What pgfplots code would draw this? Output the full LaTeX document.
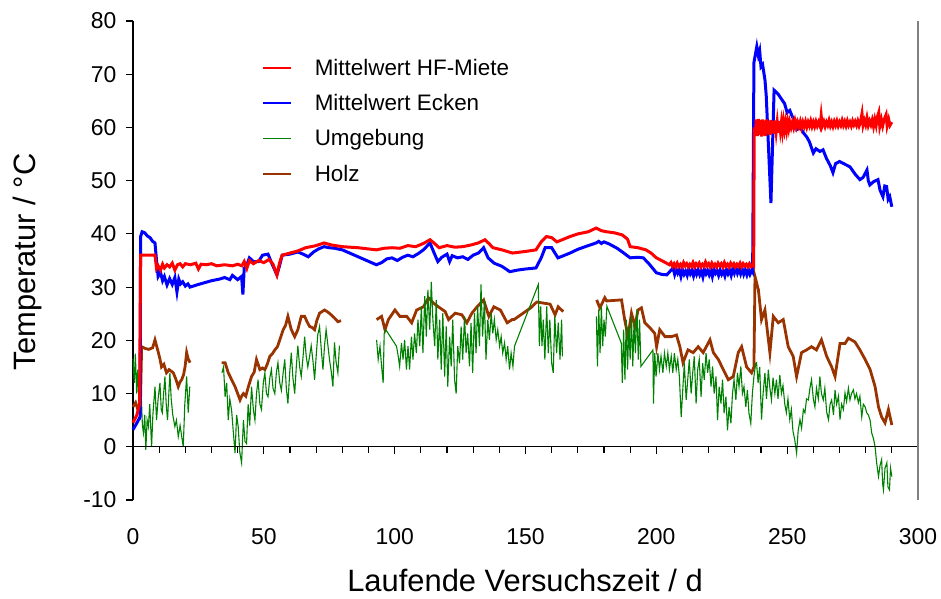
\documentclass[border=0pt]{standalone}
\usepackage{pgfplots}
\pgfplotsset{compat=1.18}
\usepackage{fontspec}
\setmainfont{Liberation Sans}
\definecolor{cred}{RGB}{255,0,0}
\definecolor{cblue}{RGB}{0,0,255}
\definecolor{cgreen}{RGB}{0,128,0}
\definecolor{cbrown}{RGB}{153,51,0}
\begin{document}
\begin{tikzpicture}
\begin{axis}[name=main, scale only axis, width=785bp, height=479bp,
  xmin=0, xmax=300, ymin=-10, ymax=80, clip=false,
  axis x line*=bottom, axis y line*=left,
  x axis line style={draw=none},
  y axis line style={-, black, line width=1.2bp},
  xtick={0,50,...,300}, ytick={-10,0,...,80},
  major x tick style={draw=none},
  tick align=outside, major tick length=7bp,
  y tick style={black, line width=1.2bp},
  /pgf/number format/assume math mode=true,
  tick label style={font=\fontsize{23}{27}\selectfont},
  xticklabel style={anchor=base, yshift=-37bp},
  yticklabel style={anchor=east, xshift=-6bp},
  xlabel={Laufende Versuchszeit / d},
  ylabel={Temperatur / °C},
  label style={font=\fontsize{31}{35}\selectfont},
  xlabel style={at={(axis description cs:0.4994,-0.167)}, anchor=center},
  ylabel style={at={(axis description cs:-0.1338,0.497)}, anchor=center, rotate=0},
  unbounded coords=jump,
  legend cell align=left,
  legend image code/.code={\draw[#1] (0bp,0bp) -- (28bp,0bp);},
  legend style={draw=none, fill=none, font=\fontsize{22.5}{26}\selectfont,
    at={(rel axis cs:0.160,0.929)}, anchor=north west, row sep=13.5bp,
    column sep=21bp},
]
\addlegendimage{cred, line width=2bp}\addlegendentry{Mittelwert HF-Miete}
\addlegendimage{cblue, line width=2bp}\addlegendentry{Mittelwert Ecken}
\addlegendimage{cgreen, line width=1bp}\addlegendentry{Umgebung}
\addlegendimage{cbrown, line width=2bp}\addlegendentry{Holz}

% Holz
\addplot[cbrown, line width=2.8bp, forget plot] coordinates {
(0,7.5) (1,8.3) (2,6.8) (2.8,7) (3.3,18.8) (4.5,18.5) (6,18.3) (7.5,18.6) (8.4,20.1) (9.7,17.7) (10.3,16.5) (10.9,15) (11.8,15.5) (12.8,13.9) (13.8,14.5) (15.4,13.9) (16.3,12.8) (17.3,11.3) (18.0,12.2) (18.6,12.6) (19.3,13.5) (19.9,15) (20.5,17.7) (21.1,16.5) (21.8,15.8) (22,nan)
(33.9,15.8) (35.2,15.8) (36.4,13.9) (37.7,12.6) (39,11.3) (40,10) (40.9,8.8) (41.5,9.5) (42.2,10) (43.1,9.5) (44.1,11.3) (45.3,13.2) (46.3,14) (47.2,16.4) (48.5,14.5) (49.5,14.8) (50.4,14.5) (51.3,15.5) (52.3,17) (53.3,17.5) (54.2,18.2) (55.2,18.8) (56.1,20.1) (57.4,22) (58.3,22.8) (59.2,24.5) (60.5,22) (61.8,20.7) (63,22) (64.3,24.5) (65.6,24.5) (66.5,23.5) (67.5,22.6) (68.5,22.4) (69.4,22) (70.3,23.8) (71.3,25.1) (73.2,25.7) (74.5,25.3) (75.7,24.8) (77,24.2) (78.3,23.5) (79.5,23.7) (80,nan)
(93.1,23.9) (95,24.5) (96.3,22) (97.6,23.9) (100.1,25.7) (102,24.5) (104.6,24.5) (106.5,23.3) (108.4,25.7) (111,26.3) (112.9,28) (114.8,27) (116.7,26.3) (119.3,25.4) (120.6,23.9) (123.1,25.1) (125.7,24.8) (127.6,23.3) (129.5,25.1) (131.5,26.3) (134,27.6) (136,24.5) (137.9,26.3) (140.4,25.7) (143,23.3) (144.9,23.9) (145.6,23.9) (152,26.1) (154.3,27.2) (156.8,27) (159.4,26.8) (161.3,24.8) (162.5,26.3) (164.4,25.4) (165,nan)
(177.2,27.6) (178.4,26.1) (180.3,28) (181,27.4) (186.7,27.6) (187.9,23.9) (189.2,20.7) (190.5,25.1) (191.8,22.6) (193,25.7) (194.3,26.1) (195.6,23.3) (197.5,22.4) (199.4,21.3) (200.1,18.8) (201.3,22) (203.3,20.7) (205.8,20.7) (207.7,21) (209,18.8) (210.2,15.8) (212.1,18.2) (214.1,17.7) (216,18.8) (217.9,17.7) (220.5,20.1) (221.8,17.7) (223.7,16.4) (225.6,14.5) (227.5,12.6) (229.4,13.2) (231.3,17.7) (232.6,18.8) (234.5,15) (236.4,13.9) (237.3,15) (237.7,32) (239,29.5) (240.2,23.9) (241.5,25.7) (243.4,17.7) (244.7,24.5) (246.6,23.3) (248.5,23.9) (250.4,18.8) (252.3,17) (253.6,13.2) (255.5,17.7) (257.4,18.2) (259.3,18.8) (261.2,18.2) (263.1,20.1) (265.1,17) (267,15) (268.3,13.2) (270.2,19.4) (272.1,19.4) (273.4,20.4) (275.9,19.7) (277.8,18.2) (279.8,16.4) (281.7,14.5) (283.6,11.3) (284.9,7.5) (286.1,5.6) (287.4,4.5) (288.7,7) (290,4.1)
};

% Umgebung
\addplot[cgreen, line width=1.1bp, forget plot] coordinates {
(0,16.5) (0.5,12) (0.9,17.5) (1.4,10) (1.8,14.5) (2.3,8) (2.7,5) (3.2,9) (3.6,4) (4.0,2.6) (4.5,6) (4.9,-0.6) (5.4,5) (5.9,3.8) (6.4,8) (7.1,0) (7.6,6) (8.4,11.3) (9.0,5) (9.6,9) (10.3,12) (10.8,7) (11.2,6.4) (11.7,10) (12.2,13.2) (12.7,8) (13.2,5) (13.7,10) (14.1,13.9) (14.6,9) (15.2,6) (16.0,3.8) (16.6,5) (17.3,1.9) (18.0,4) (18.6,2) (19.2,0) (19.8,8) (20.5,13.2) (21.1,6.4) (21.7,11.3) (22,nan)
(34.0,13.9) (34.6,15) (35.2,9.4) (35.8,12) (36.4,5) (37.0,9) (37.7,6.8) (38.3,3) (39.0,-1.2) (39.6,6) (40.2,3.8) (40.8,-1) (41.5,-3) (42.2,5) (42.8,1) (43.4,0.6) (44.0,8) (44.6,4) (45.3,11.3) (46.0,7) (46.6,5) (47.2,10) (47.8,12.6) (48.5,8) (49.1,7) (49.8,12) (50.4,13.9) (51.0,10) (51.6,9.4) (52.3,13) (52.9,14.5) (53.5,11) (54.2,10) (54.8,14) (55.4,15.8) (56.1,12) (56.7,10.6) (57.4,14) (58.0,16.4) (58.6,11) (59.2,8.1) (59.9,14) (60.5,17.7) (61.1,13) (61.8,10) (62.4,15) (63.0,19) (63.7,15) (64.3,13.2) (65.0,17) (65.6,20.7) (66.2,17) (66.8,15) (67.5,17) (68.1,19) (68.8,16) (69.4,12.6) (70.0,17) (70.6,21) (71.3,22.6) (72.0,18) (72.6,14.5) (73.2,19) (73.8,22) (74.5,19) (75.1,16.4) (75.8,14) (76.4,11.3) (77.0,19.6) (77.6,16) (78.3,13.9) (78.9,19) (79,nan)
(93.1,20.1) (93.7,16.4) (94.4,18.9) (95,15.1) (95.6,12) (96,21.3) (96.6,22) (100.7,18.9) (101.3,17.2) (101.9,15.1) (102.6,19.5) (103.2,16.4) (103.8,20.1) (104.5,14.5) (105.1,18.9) (105.7,14.5) (106.4,20.7) (107,16.4) (107.6,21.3) (108.3,17.6) (108.9,23.9) (109.6,18.9) (110.2,26.4) (110.8,17.6) (111.5,28.3) (112.1,20.7) (112.7,29.5) (113.4,22) (114,31) (114.6,23.9) (115.3,18.9) (115.9,27.6) (116.5,16.4) (117.2,23.9) (117.8,14.5) (118.4,25.1) (119.1,13.2) (119.7,22.6) (120.3,11.3) (121,20.7) (121.6,15.1) (122.2,23.9) (122.9,12.6) (123.5,10) (124.1,18.9) (124.8,15.7) (125.4,22.6) (126,16.4) (126.7,24.5) (127.3,17.6) (127.9,21.3) (128.6,15.1) (129.2,23.3) (129.8,13.9) (130.5,25.1) (131.1,17.6) (131.7,26.4) (132.4,18.9) (133,30.5) (133.6,20.7) (134.3,27.6) (134.9,16.4) (135.6,23.9) (136.2,20.1) (136.9,25.1) (137.5,21.3) (138.1,23.9) (138.8,20.1) (139.4,22) (140.1,18.9) (140.7,20.7) (141.3,17.6) (142,19.5) (142.6,16.4) (143.2,18.9) (143.9,14.5) (144.5,17.6) (145.2,15.1) (145.8,18.9) (154.9,30.5) (155.3,18.9) (155.8,26.4) (156.3,18.9) (156.8,23.9) (157.4,16.4) (158.1,26.4) (158.7,17.6) (159.3,23.9) (160,15.7) (160.6,13.9) (161.2,24.5) (161.9,17.6) (162.5,23.3) (163.2,16.4) (163.8,23.9) (164.1,17) (165,nan)
(177.1,24.5) (177.5,15.1) (178,25.8) (178.5,17.6) (179,26.4) (179.5,18.9) (180,23.9) (180.5,20.7) (181.1,26.4) (186.6,19.5) (187,12) (187.5,22) (188,12.6) (188.5,23.9) (189,14.5) (189.5,22.6) (190,16.4) (190.5,24.5) (191,15.1) (191.5,23.9) (192,17.6) (192.6,25.8) (193.1,16.4) (193.6,23.9) (194.1,15.1) (198.7,18.2) (198.9,8.1) (199.4,17.6) (199.9,13.2) (200.6,17.6) (201.2,14.5) (201.8,17) (202.5,13.9) (203.1,17.6) (203.8,15.1) (204.4,17.6) (205,14.5) (205.7,17) (206.3,13.9) (206.9,17.6) (207.6,14.5) (208.2,16.4) (208.8,13.2) (209.5,5.6) (210.1,10.7) (210.7,15.7) (211.4,8.8) (212,12.6) (212.6,16.4) (213.3,10) (213.9,13.9) (214.5,17) (215.2,8.1) (215.8,14.5) (216.4,16.4) (217.1,9.4) (217.7,15.7) (218.3,12.6) (219,17.6) (219.6,13.9) (220.2,16.4) (220.9,11.3) (221.5,15.1) (222.1,10) (222.8,13.2) (223.4,5) (224,11.3) (224.7,8.1) (225.3,12.6) (225.9,6.3) (226.6,9.4) (227.2,3.1) (227.8,7.5) (228.5,4.4) (229.1,10) (229.7,12.6) (230.4,8.8) (231,13.9) (231.6,11.3) (232.3,15.1) (232.9,10) (233.5,11.3) (234.2,7.5) (234.8,10.7) (235.4,6.3) (236.1,4.4) (236.7,10) (237.3,13.2) (238,15.7) (238.3,15.8) (238.9,12) (239.5,15) (240.2,5.1) (240.8,10) (241.5,13.9) (242.1,9) (242.8,14.5) (243.4,11) (244,8.8) (244.6,13) (245.3,10) (245.9,12.6) (246.5,9) (247.2,13.5) (247.8,10) (248.4,11.5) (249.1,8) (249.7,6.4) (250.3,9) (251,5.1) (251.6,7) (252.2,3) (252.9,1.3) (253.6,-1.2) (254.2,3) (254.9,5.1) (255.5,3.5) (256.2,7) (256.8,6.4) (257.4,9) (258.1,8.8) (258.7,11) (259.3,12.6) (260,9) (260.6,7.5) (261.2,11) (261.9,9) (262.5,13.2) (263.1,10) (263.8,8.8) (264.4,11) (265.1,6.5) (265.8,5.1) (266.4,8) (267,8.8) (267.7,6) (268.3,10.7) (268.9,8) (269.6,9.5) (270.2,5.1) (270.8,8) (271.5,7) (272.1,10.1) (272.7,8.5) (273.4,11) (274,8.8) (274.6,10) (275.3,10.7) (275.9,9) (276.5,10) (277.2,8.3) (277.8,9.5) (278.5,5.6) (279.1,8) (279.8,7.5) (280.4,6.4) (281,6) (281.7,5) (282.3,2.6) (283,1.5) (283.6,0) (284.2,-3) (284.9,-5.6) (285.5,-3.5) (286.1,-2.4) (286.5,-7) (286.8,-8.1) (287.4,-4) (288.1,-3) (288.5,-7.5) (289.1,-8.1) (289.5,-4) (290,-5.6)
};

% Mittelwert Ecken
\addplot[cblue, line width=3bp, forget plot] coordinates {
(0,3.2) (1.5,4.5) (2.7,5.6) (2.9,39.5) (3.5,40.4) (4.5,40.2) (5.5,39.6) (6.5,39.3) (7.5,38.6) (8.4,38.3) (9,35) (9.6,32) (10.5,32.8) (11.3,31.2) (12,32) (13,30.4) (14,31.6) (15,30.5) (16,31.8) (16.8,29.1) (17.5,31.5) (18.2,30.6) (19,31) (20,30.2) (21,30.6) (21.8,30) (25,30.5) (30,31.2) (33,31.5) (35,31.8) (37,31.4) (38,32.2) (40,31.4) (41.5,32) (42,28.6) (42.5,33.5) (43.5,34.2) (44.5,35.5) (46,34.8) (48,34.8) (49.5,36) (51.6,36.2) (53,34.5) (55,32.3) (56,34) (57,36) (60,36.2) (63,36.6) (65,36.2) (67,35.7) (69,36.6) (71,37.2) (73,37.6) (75,37.4) (77,37.3) (80,37) (93,34.2) (95,34.6) (97,35.3) (99,35.5) (101,35) (103,35.6) (105,36) (107,35.7) (109,36.3) (111,37) (113.5,38.3) (115,36.5) (116.5,34.8) (118,35.6) (120,36.2) (121,34.8) (122,35.9) (124,35.5) (126,35.7) (128,35.2) (130,36) (132,36.4) (134,37.4) (135.7,35.5) (138,34.5) (141,33.9) (144,32.9) (147,33.2) (150,33.4) (154,33.6) (156,35.5) (157.5,37.4) (160,37.4) (162.4,35.5) (164,35.8) (167,36.4) (170,37.1) (174,37.8) (177,38.3) (178,38.6) (179,38.2) (180,38.5) (182,38.1) (185,37.3) (187,36.6) (190,35.5) (193,35.6) (195,35.5) (197,34.5) (200,32.7) (202,32.4) (204,32.3) (206.4,33.6) (207,32.4) (207.6,33.4) (208.2,32.6) (208.8,33.2) (209.4,32) (210,33.3) (210.6,32.4) (211.2,33) (211.8,32.2) (212.4,33.4) (213,32.5) (213.6,33.1) (214.2,32.1) (214.8,33.3) (215.4,32.4) (216,33.2) (216.6,32.3) (217.2,33) (217.8,31.9) (218.4,33.3) (219,32.5) (219.6,33.1) (220.2,32.3) (220.8,33.2) (221.4,32) (222,33.4) (222.6,32.6) (223.2,33.1) (223.8,32.2) (224.4,33.2) (225,32.4) (225.6,33) (226.2,32.1) (226.8,33.3) (227.4,32.5) (228,33.2) (228.6,32.2) (229.2,33.4) (229.8,32.6) (230.4,33.6) (231,32.6) (231.6,33.4) (232.2,32.5) (232.8,33.5) (233.4,32.4) (234,33.2) (234.6,32.3) (235.2,33.3) (235.8,32.4) (236.4,33.1) (236.8,32.8) (237.3,72.2) (238.4,75.2) (239,73.5) (239.5,74.4) (240,71.4) (240.6,71.8) (241.5,69) (242,66) (243.8,45.8) (245,67) (246.5,66.3) (248,65.2) (249,64.5) (250,62.8) (251,63.2) (252,62) (253,61.5) (253.7,59.6) (255,60) (256.2,59) (257.5,58.2) (258.5,57.3) (260,55.2) (261,56) (262.5,55.5) (263.7,55.8) (265,54.2) (266.5,52.8) (267.5,51.5) (268.5,53.2) (270,53.6) (272,53.1) (274,52.6) (276,51.2) (277.8,50.2) (279,50.6) (280.5,52) (281,50) (281.6,49.2) (283,49.8) (284.7,50.2) (285.5,48.2) (286.6,47) (287.3,49) (288,48.9) (288.6,46.5) (289.2,47) (290,45.1)
};

% Mittelwert HF-Miete
\addplot[cred, line width=3bp, forget plot] coordinates {
(0,4.5) (1.5,6) (2.5,8) (2.9,36) (8.4,36) (9.0,33.5) (9.6,34) (10.5,33.2) (11.3,34.3) (12,33.6) (13,34.2) (14,33.8) (15,34.5) (16,33.2) (17,34.2) (18,34.4) (19,33.8) (20,34.4) (22,34.2) (24,34.5) (25,33.4) (26,34.3) (28,34.2) (30,34.4) (32,34) (35,34.2) (38,34) (40,34.3) (41.6,34) (42.5,34.8) (43.5,33.5) (44.5,35) (46,34.4) (48,35) (50,34.6) (52,35.2) (53.5,34.3) (55,32.3) (56,34.5) (57,36) (60,36.4) (63,36.8) (66,37.4) (70,37.8) (73,38.3) (76,37.9) (80,37.6) (86,37.4) (93,37) (96,37.3) (99,37.4) (102,37.3) (105,37.8) (108,37.6) (111,38.2) (113.5,38.9) (115,38.3) (117,37.4) (120,37.8) (123,37.5) (126,37.6) (129,37.9) (132,38.3) (134.5,38.9) (136,38.2) (137.6,37.4) (141,37) (145,36.4) (150,36.7) (154,37) (156,38.5) (158,39.5) (160,39.3) (162,38.5) (164,38.9) (167,39.5) (170,40) (174,40.4) (177,41.1) (179,40.6) (181,40.4) (184,40.2) (187,39.8) (189,39) (190,37.6) (193,37.4) (196,37) (198,36.4) (200,35.5) (202,35) (205,34.2) (205.6,34.6) (206.2,33.9) (206.8,34.4) (207.4,33.8) (208,34.5) (208.6,33.9) (209.2,34.3) (209.8,33.8) (210.4,34.6) (211,34) (211.6,34.4) (212.2,33.8) (212.8,34.3) (213.4,33.9) (214,34.6) (214.6,33.8) (215.2,34.4) (215.8,34) (216.4,34.5) (217,33.8) (217.6,34.3) (218.2,33.9) (218.8,34.7) (219.4,34) (220,34.4) (220.6,33.8) (221.2,34.5) (221.8,33.9) (222.4,34.3) (223,33.8) (223.6,34.5) (224.2,34) (224.8,34.4) (225.4,33.8) (226,34.6) (226.6,33.9) (227.2,34.3) (227.8,33.8) (228.4,34.5) (229,34) (229.6,34.4) (230.2,33.8) (230.8,34.3) (231.4,33.9) (232,34.5) (232.6,33.8) (233.2,34.4) (233.8,34) (234.4,34.3) (235,33.8) (235.6,34.4) (236.2,33.9) (236.8,34.2) (237.2,34) (237.4,60) (237.8,58.5) (238.2,61.5) (238.6,58.4) (239,61.6) (239.4,58.6) (239.8,61.4) (240.2,58.3) (240.6,61.5) (241,58.5) (241.4,61.3) (241.8,58.4) (242.2,61.5) (242.6,58.8) (243,61.2) (243.4,58.6) (243.8,61.4) (244.2,59) (244.6,61.2) (245,58.8) (245.4,61.3) (245.8,59.2) (246.2,61) (246.6,59) (247,61.2) (247.4,59.4) (247.8,61) (248.2,59.3) (248.6,61.1) (249,59.6) (249.4,60.9) (249.8,59.5) (250.2,61) (250.6,59.8) (251,61) (251.5,60) (252,61) (252.5,60) (253,61.2) (253.5,60.1) (254,61) (254.5,60.2) (255,61.1) (255.5,60) (256,61) (256.5,60.2) (257,61.1) (257.5,60.1) (258,61) (258.5,60.3) (259,61.2) (259.5,60.2) (260,61) (260.5,60.2) (261,61.1) (261.5,60.3) (262,61) (262.6,60.2) (263,62.2) (263.4,60.3) (264,61.1) (264.5,60.2) (265,61) (265.5,60.4) (266,61.3) (266.5,60.3) (267,61) (267.5,60.2) (268,61.1) (268.5,60.4) (269,61.2) (269.5,60.3) (270,61) (270.5,60.4) (271,61.3) (271.5,60.4) (272,61.1) (272.5,60.3) (273,61.2) (273.5,60.4) (274,61) (274.5,60.3) (275,61.2) (275.5,60.5) (276,61.1) (276.5,60.4) (277,61.2) (277.5,60.3) (278,61) (278.6,62.6) (279,60.4) (279.5,61.3) (280,60.5) (280.5,61.8) (281,60.4) (281.5,61.2) (282,60.5) (282.5,61.4) (283,60.2) (283.5,61.5) (284,60.4) (284.5,62) (285,62.8) (285.4,60.2) (286,61.5) (286.5,60.3) (287,61.4) (287.8,62.4) (288.2,60.3) (288.8,61.5) (289.3,60.4) (290,61)
};

% axis decorations
\draw[black, line width=1.2bp] (axis cs:0,0) -- (axis cs:300,0);
\pgfplotsinvokeforeach{10,20,30,40,60,70,80,90,110,120,130,140,160,170,180,190,210,220,230,240,260,270,280,290}{
  \draw[black, line width=1.1bp] (axis cs:#1,0) -- ([yshift=-6bp]axis cs:#1,0);
}
\pgfplotsinvokeforeach{50,100,150,200,250,300}{
  \draw[black, line width=1.3bp] (axis cs:#1,0) -- ([yshift=-7.5bp]axis cs:#1,0);
}
\draw[gray, line width=1.6bp] (rel axis cs:1,0) -- (rel axis cs:1,1);
\end{axis}
\path (main.south west) ++(-133bp,-99bp) rectangle ++(941bp,599bp);
\end{tikzpicture}
\end{document}
